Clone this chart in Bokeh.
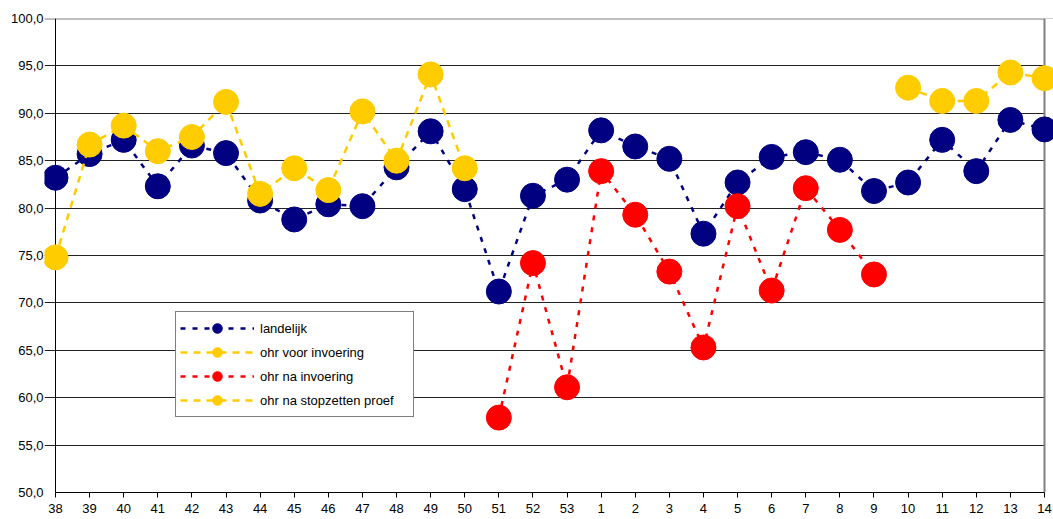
from bokeh.plotting import figure
from bokeh.models import (Range1d, FixedTicker, Legend, LegendItem, Span, BoxAnnotation)
from bokeh.embed import file_html
from bokeh.resources import INLINE

# ---- data ----
weeks = ["38", "39", "40", "41", "42", "43", "44", "45", "46", "47", "48", "49", "50",
         "51", "52", "53", "1", "2", "3", "4", "5", "6", "7", "8", "9", "10", "11",
         "12", "13", "14"]
landelijk = [83.2, 85.7, 87.2, 82.3, 86.6, 85.8, 80.8, 78.8, 80.4, 80.2, 84.3, 88.1,
             82.0, 71.2, 81.3, 83.0, 88.2, 86.5, 85.2, 77.3, 82.7, 85.4, 85.9, 85.1,
             81.8, 82.7, 87.2, 83.9, 89.3, 88.3]
voor_weeks = ["38", "39", "40", "41", "42", "43", "44", "45", "46", "47", "48", "49", "50"]
voor_vals = [74.8, 86.7, 88.7, 86.0, 87.5, 91.2, 81.5, 84.2, 81.9, 90.2, 85.0, 94.1, 84.2]
na_weeks = ["51", "52", "53", "1", "2", "3", "4", "5", "6", "7", "8", "9"]
na_vals = [57.9, 74.2, 61.1, 83.9, 79.3, 73.3, 65.3, 80.2, 71.3, 82.1, 77.7, 73.0]
stop_weeks = ["10", "11", "12", "13", "14"]
stop_vals = [92.7, 91.3, 91.3, 94.3, 93.7]
y_ticks = [50, 55, 60, 65, 70, 75, 80, 85, 90, 95, 100]
y_tick_labels = ["50,0", "55,0", "60,0", "65,0", "70,0", "75,0", "80,0", "85,0",
                 "90,0", "95,0", "100,0"]
series_names = ["landelijk", "ohr voor invoering", "ohr na invoering",
                "ohr na stopzetten proef"]

NAVY, YELLOW, RED = "#000080", "#FFCC00", "#FF0000"
FONT = "Liberation Sans"

W, H = 1053, 519
FL = 44
X0PX, XNPX = 55, 1044
n = len(weeks) - 1
scale = (XNPX - X0PX) / n
x_start = -(X0PX - FL) / scale
x_end = n + (W - XNPX) / scale

def xi(ws):
    return [weeks.index(w) for w in ws]

p = figure(width=W, height=H, x_range=Range1d(x_start, x_end), y_range=Range1d(50, 100),
           output_backend="svg", toolbar_location=None,
           min_border_left=FL, min_border_right=0, min_border_top=18, min_border_bottom=27)
p.outline_line_color = None
p.background_fill_color = "white"
p.border_fill_color = "white"

# axes
p.xaxis.ticker = FixedTicker(ticks=list(range(len(weeks))))
p.xaxis.major_label_overrides = {i: w for i, w in enumerate(weeks)}
p.xaxis.bounds = (0, n)
p.yaxis.ticker = FixedTicker(ticks=y_ticks)
p.yaxis.major_label_overrides = {t: l for t, l in zip(y_ticks, y_tick_labels)}
for ax in (p.xaxis, p.yaxis):
    ax.axis_line_color = "black"
    ax.axis_line_width = 1
    ax.major_tick_line_color = "black"
    ax.major_tick_out = 5
    ax.major_tick_in = 0
    ax.minor_tick_line_color = None
    ax.major_label_text_font = FONT
    ax.major_label_text_font_size = "13px"
    ax.major_label_text_color = "black"
p.xaxis.major_label_standoff = 6
# y axis line itself is drawn at x = first week (inside the frame) via a Span
p.yaxis.axis_line_color = None
p.yaxis.major_tick_line_color = None
p.yaxis.major_tick_out = 0
p.yaxis.major_label_standoff = 1

p.xgrid.visible = False
p.ygrid.grid_line_color = "#222222"
p.ygrid.grid_line_width = 1

top_border = Span(location=100, dimension="width", line_color="#808080", line_width=2,
                  level="underlay")
p.add_layout(top_border)
mask_r = BoxAnnotation(left=n, right=x_end, bottom=50, top=100, fill_color="white",
                       fill_alpha=1, line_color=None, level="underlay")
p.add_layout(mask_r)
right_border = Span(location=n, dimension="height", line_color="#808080", line_width=2,
                    level="underlay")
p.add_layout(right_border)
y_axis_line = Span(location=0, dimension="height", line_color="black", line_width=1,
                   level="underlay")
p.add_layout(y_axis_line)

items = []
specs = [
    (xi(weeks), landelijk, NAVY, "5 7"),
    (xi(voor_weeks), voor_vals, YELLOW, "7 6"),
    (xi(na_weeks), na_vals, RED, "5 7"),
    (xi(stop_weeks), stop_vals, YELLOW, "7 6"),
]
for name, (xs, ys, col, dash) in zip(series_names, specs):
    lr = p.line(xs, ys, line_color=col, line_width=2.5, line_dash=dash)
    sr = p.scatter(xs, ys, size=25, fill_color=col, line_color=col)
    items.append(LegendItem(label=name, renderers=[lr, sr]))

legend = Legend(items=items, location=(175 - FL, 75), orientation="vertical",
                border_line_color="black", border_line_width=1,
                background_fill_color="white", background_fill_alpha=1,
                padding=4, spacing=0, margin=0, glyph_width=74, glyph_height=24,
                label_height=24, label_width=149, label_standoff=6,
                label_text_font=FONT, label_text_font_size="13px",
                label_text_color="black")
p.add_layout(legend, "center")

open("out.html", "w").write(file_html(p, INLINE))
